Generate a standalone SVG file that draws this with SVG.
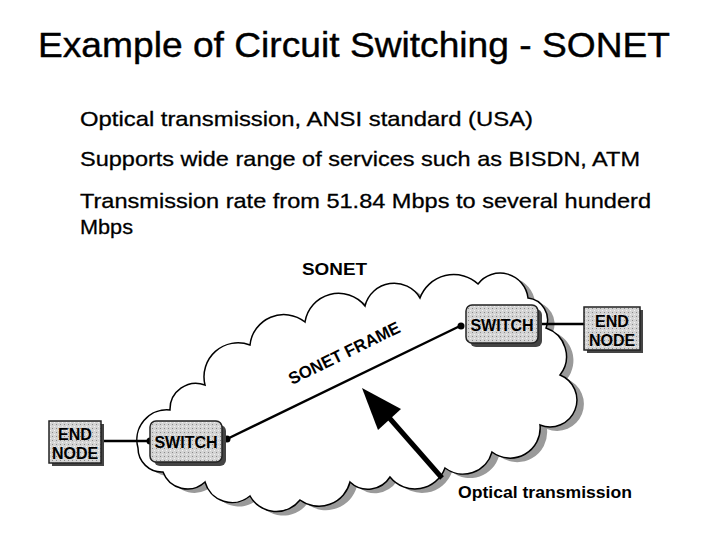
<svg xmlns="http://www.w3.org/2000/svg" width="720" height="540" viewBox="0 0 720 540">
<style>
.t{font-family:"Liberation Sans",Arial,sans-serif;fill:#000}
.title{font-size:35px;stroke:#000;stroke-width:0.4}
.body{font-size:21px;stroke:#000;stroke-width:0.3}
.b{font-weight:bold}
.lbl{font-family:"Liberation Sans",Arial,sans-serif;font-weight:bold;font-size:16px;fill:#000;text-anchor:middle}
.box{fill:#cfcfcf;stroke:#222;stroke-width:1.5}
.shadow{fill:#444}
.wire{stroke:#000;stroke-width:2.5;fill:none}
</style>
<defs>
<pattern id="dots" width="4" height="4" patternUnits="userSpaceOnUse">
<rect width="4" height="4" fill="#d4d4d4"/>
<rect x="0" y="0" width="1" height="1" fill="#8a8a8a"/>
<rect x="2" y="2" width="1" height="1" fill="#f2f2f2"/>
</pattern>
<path id="cloudPath" d="M138,448 A30,30 0 0 1 170,410 A26,26 0 0 1 205,385 A34,34 0 0 1 250,345 A34,34 0 0 1 305,322 A34,34 0 0 1 365,306 A30,30 0 0 1 420,298 A36,36 0 0 1 478,284 A28,28 0 0 1 528,298 A22,22 0 0 1 546,328 A30,30 0 0 1 560,375 A26,26 0 0 1 540,425 A30,30 0 0 1 492,452 A30,30 0 0 1 445,468 A32,32 0 0 1 390,477 A26,26 0 0 1 350,482 A32,32 0 0 1 300,500 A30,30 0 0 1 250,496 A28,28 0 0 1 205,482 A26,26 0 0 1 163,472 A24,24 0 0 1 138,448 Z"/>
</defs>
<rect width="720" height="540" fill="#fff"/>

<g id="title">
<text class="t title" x="38" y="57" textLength="632" lengthAdjust="spacingAndGlyphs">Example of Circuit Switching - SONET</text>
</g>
<g id="bullets">
<text class="t body" x="80" y="126" textLength="453" lengthAdjust="spacingAndGlyphs">Optical transmission, ANSI standard (USA)</text>
<text class="t body" x="80" y="166" textLength="560" lengthAdjust="spacingAndGlyphs">Supports wide range of services such as BISDN, ATM</text>
<text class="t body" x="80" y="208" textLength="571" lengthAdjust="spacingAndGlyphs">Transmission rate from 51.84 Mbps to several hunderd</text>
<text class="t body" x="80" y="234" textLength="53" lengthAdjust="spacingAndGlyphs">Mbps</text>
</g>
<g id="sonet-label">
<text class="t b" x="302" y="275" font-size="17" textLength="65" lengthAdjust="spacingAndGlyphs">SONET</text>
</g>

<g id="cloud">
<use href="#cloudPath" transform="translate(7,4)" fill="#9a9a9a"/>
<use href="#cloudPath" fill="#fff" stroke="#000" stroke-width="1.5"/>
</g>

<g id="connectors">
<line class="wire" x1="101" y1="441" x2="150" y2="441"/>
<line class="wire" x1="227" y1="439" x2="460" y2="326"/>
<line class="wire" x1="540" y1="324" x2="584" y2="324"/>
<circle cx="150" cy="441" r="3.5" fill="#000"/>
<circle cx="227" cy="439" r="3.5" fill="#000"/>
<circle cx="461" cy="326" r="3.5" fill="#000"/>
</g>

<g id="frame-label">
<text class="t b" font-size="17" transform="translate(292,385) rotate(-26)" textLength="122" lengthAdjust="spacingAndGlyphs">SONET FRAME</text>
</g>

<g id="switch-left">
<rect x="154" y="425" width="72" height="41" rx="6" class="shadow"/>
<rect x="150" y="421" width="72" height="41" rx="6" class="box" style="fill:url(#dots)"/>
<text class="lbl" x="186" y="448">SWITCH</text>
</g>
<g id="switch-right">
<rect x="470" y="309" width="72" height="38" rx="6" class="shadow"/>
<rect x="466" y="305" width="72" height="38" rx="6" class="box" style="fill:url(#dots)"/>
<text class="lbl" x="502" y="331">SWITCH</text>
</g>
<g id="endnode-left">
<rect x="52" y="424" width="52" height="42" class="shadow"/>
<rect x="49" y="421" width="52" height="42" class="box" style="fill:url(#dots)"/>
<text class="lbl" x="75" y="440">END</text>
<text class="lbl" x="75" y="459">NODE</text>
</g>
<g id="endnode-right">
<rect x="587" y="310" width="56" height="43" class="shadow"/>
<rect x="584" y="307" width="56" height="43" class="box" style="fill:url(#dots)"/>
<text class="lbl" x="612" y="327">END</text>
<text class="lbl" x="612" y="346">NODE</text>
</g>

<g id="optical-arrow">
<line x1="442" y1="478" x2="385" y2="413" stroke="#000" stroke-width="5"/>
<polygon points="362,388 401,409 378,430" fill="#000"/>
<text class="t b" x="458" y="498" font-size="16" textLength="174" lengthAdjust="spacingAndGlyphs">Optical transmission</text>
</g>
</svg>
